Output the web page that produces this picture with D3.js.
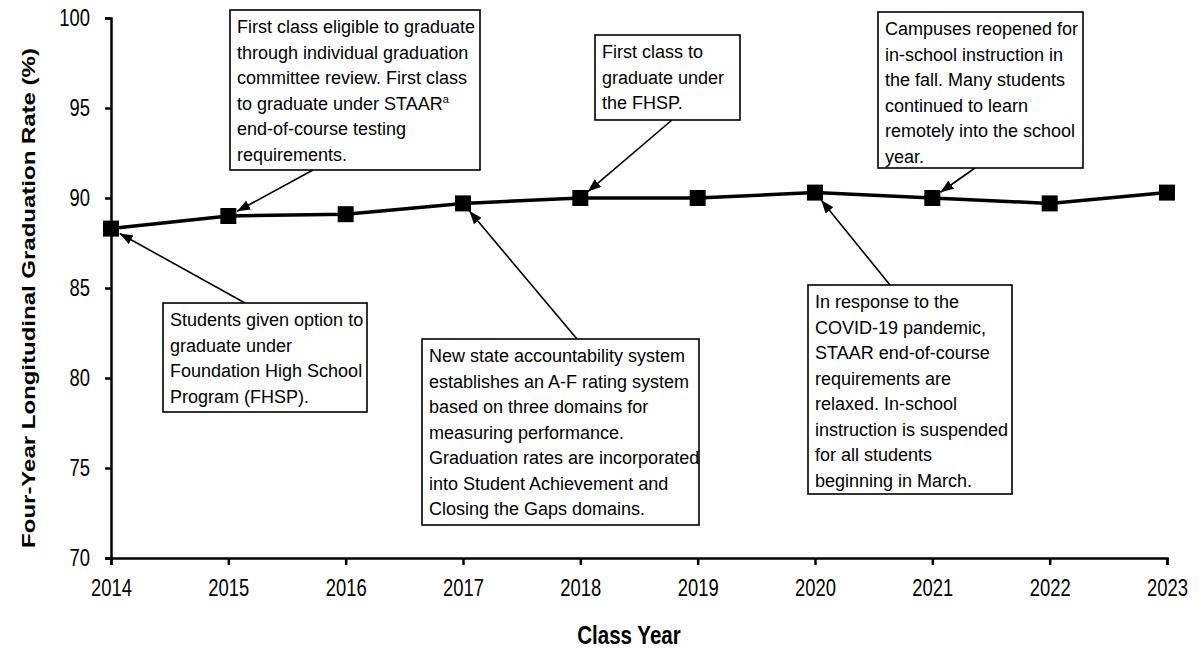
<!DOCTYPE html>
<html>
<head>
<meta charset="utf-8">
<script src="https://cdn.jsdelivr.net/npm/d3@7"></script>
<style>
  body { margin: 0; background: #fff; }
  svg { display: block; }
  text { font-family: "Liberation Sans", Arial, sans-serif; fill: #000; }
</style>
</head>
<body>
<div id="chart"></div>
<script>
// class years and the four-year longitudinal graduation rate (%)
var years = [2014, 2015, 2016, 2017, 2018, 2019, 2020, 2021, 2022, 2023];
var rates = [88.3, 89.0, 89.1, 89.7, 90.0, 90.0, 90.3, 90.0, 89.7, 90.3];
var yTicks = [70, 75, 80, 85, 90, 95, 100];

// annotation texts, one per callout
var noteYears = [2015, 2018, 2021, 2014, 2017, 2020];
var noteLines = [
    ["First class eligible to graduate", "through individual graduation", "committee review. First class", "to graduate under STAAR^a", "end-of-course testing", "requirements."],
    ["First class to", "graduate under", "the FHSP."],
    ["Campuses reopened for", "in-school instruction in", "the fall. Many students", "continued to learn", "remotely into the school", "year."],
    ["Students given option to", "graduate under", "Foundation High School", "Program (FHSP)."],
    ["New state accountability system", "establishes an A-F rating system", "based on three domains for", "measuring performance.", "Graduation rates are incorporated", "into Student Achievement and", "Closing the Gaps domains."],
    ["In response to the", "COVID-19 pandemic,", "STAAR end-of-course", "requirements are", "relaxed. In-school", "instruction is suspended", "for all students", "beginning in March."]
];

// where each callout box sits (x, y, width, height, arrow anchor x, anchor side)
var noteBoxes = [
    {x: 230, y: 10, w: 250, h: 160, ax: 313, side: "bottom"},
    {x: 595, y: 35, w: 145, h: 85, ax: 672, side: "bottom"},
    {x: 878, y: 12, w: 205, h: 156, ax: 975, side: "bottom"},
    {x: 163, y: 303, w: 204, h: 109, ax: 245, side: "top"},
    {x: 422, y: 339, w: 277, h: 186, ax: 577, side: "top"},
    {x: 808, y: 285, w: 204, h: 209, ax: 890, side: "top"}
];

var W = 1199, H = 649;
var margin = {top: 18, right: 32, bottom: 91, left: 111};
var width = W - margin.left - margin.right,
    height = H - margin.top - margin.bottom;

// squeeze a text element sideways so it reads like a narrow face
function narrow(sel, k) {
    sel.each(function() {
        var len = this.getComputedTextLength();
        d3.select(this)
            .attr("textLength", len * k)
            .attr("lengthAdjust", "spacingAndGlyphs");
    });
}

var svg = d3.select("#chart").append("svg")
    .attr("width", W)
    .attr("height", H);

svg.append("defs").append("marker")
    .attr("id", "arrow")
    .attr("markerUnits", "userSpaceOnUse")
    .attr("markerWidth", 14)
    .attr("markerHeight", 10)
    .attr("refX", 13)
    .attr("refY", 5)
    .attr("orient", "auto")
    .append("path")
    .attr("d", "M0,0 L13,5 L0,10 Z")
    .attr("fill", "#000");

var g = svg.append("g")
    .attr("transform", "translate(" + margin.left + "," + margin.top + ")");

var x = d3.scaleLinear().domain([2014, 2023]).range([0, width]);
var y = d3.scaleLinear().domain([70, 100]).range([height, 0]);

var xAxis = d3.axisBottom(x).tickValues(years).tickFormat(d3.format("d")).tickSizeInner(7).tickSizeOuter(7).tickPadding(15);
var yAxis = d3.axisLeft(y).tickValues(yTicks).tickSizeInner(6).tickSizeOuter(6).tickPadding(15);

var gx = g.append("g")
    .attr("class", "axis axis--x")
    .attr("transform", "translate(0," + height + ")")
    .call(xAxis);
var gy = g.append("g")
    .attr("class", "axis axis--y")
    .call(yAxis);

svg.selectAll(".axis path").attr("stroke", "#000").attr("stroke-width", 2.5);
svg.selectAll(".axis line").attr("stroke", "#000").attr("stroke-width", 2.5);
svg.selectAll(".axis text")
    .attr("font-family", "'Liberation Sans', Arial, sans-serif")
    .attr("font-size", 23)
    .attr("fill", "#000")
    .call(narrow, 0.8);

// axis titles
var xTitle = g.append("text")
    .attr("x", width / 2 - 10)
    .attr("y", height + 86)
    .attr("text-anchor", "middle")
    .attr("font-weight", "bold")
    .attr("font-size", 25)
    .text("Class Year")
    .call(narrow, 0.82);

var yTitle = g.append("text")
    .attr("transform", "translate(" + (-76) + "," + (height / 2 + 10) + ") rotate(-90) scale(1,0.78)")
    .attr("text-anchor", "middle")
    .attr("font-weight", "bold")
    .attr("font-size", 24)
    .text("Four-Year Longitudinal Graduation Rate (%)");

// the series
var pts = years.map(function(d, i) { return {year: d, rate: rates[i]}; });

var line = d3.line()
    .x(function(d) { return x(d.year); })
    .y(function(d) { return y(d.rate); });

g.append("path")
    .datum(pts)
    .attr("fill", "none")
    .attr("stroke", "#000")
    .attr("stroke-width", 3.5)
    .attr("d", line);

g.selectAll(".pt")
    .data(pts)
    .enter().append("rect")
    .attr("class", "pt")
    .attr("x", function(d) { return x(d.year) - 8; })
    .attr("y", function(d) { return y(d.rate) - 8; })
    .attr("width", 16)
    .attr("height", 16)
    .attr("fill", "#000");

// callouts
var lineGap = 25.5;
noteBoxes.forEach(function(b, i) {
    var yr = noteYears[i];
    var px = margin.left + x(yr),
        py = margin.top + y(rates[years.indexOf(yr)]);
    var ay = b.side === "top" ? b.y : b.y + b.h;
    var dx = b.ax - px, dy = ay - py, len = Math.sqrt(dx * dx + dy * dy);
    svg.append("line")
        .attr("x1", b.ax).attr("y1", ay)
        .attr("x2", px + dx / len * 10).attr("y2", py + dy / len * 10)
        .attr("stroke", "#000")
        .attr("stroke-width", 1.6)
        .attr("marker-end", "url(#arrow)");

    svg.append("rect")
        .attr("x", b.x).attr("y", b.y)
        .attr("width", b.w).attr("height", b.h)
        .attr("fill", "#fff")
        .attr("stroke", "#000")
        .attr("stroke-width", 1.6);

    var t = svg.append("text")
        .attr("font-size", 18);
    noteLines[i].forEach(function(s, k) {
        var parts = s.split("^");
        t.append("tspan")
            .attr("x", b.x + 7)
            .attr("y", b.y + 23 + k * lineGap)
            .text(parts[0]);
        if (parts.length > 1) {
            t.append("tspan")
                .attr("font-size", 11)
                .attr("dy", -7)
                .text(parts[1]);
        }
    });
});
</script>
</body>
</html>
